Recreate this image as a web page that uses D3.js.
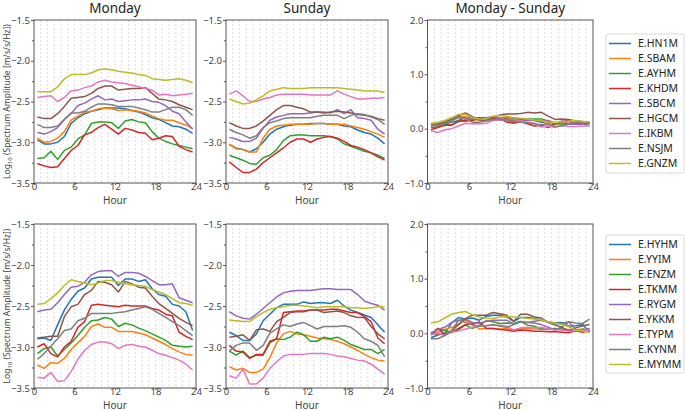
<!DOCTYPE html>
<html><head><meta charset="utf-8">
<script src="https://cdn.jsdelivr.net/npm/d3@7"></script>
<style>
html,body{margin:0;padding:0;background:#fff;}
svg{display:block;font-family:"Noto Sans",sans-serif;}
</style></head>
<body>
<svg id="chart" width="685" height="410"></svg>
<script>
const hours = [0.5,1.5,2.5,3.5,4.5,5.5,6.5,7.5,8.5,9.5,10.5,11.5,12.5,13.5,14.5,15.5,16.5,17.5,18.5,19.5,20.5,21.5,22.5,23.5];
const colors = ["#1f77b4","#ff7f0e","#2ca02c","#d62728","#9467bd","#8c564b","#e377c2","#7f7f7f","#bcbd22"];
const panelTitles = ["Monday","Sunday","Monday - Sunday"];
const xTicks = [0,6,12,18,24];
const ampTicks = [-1.5,-2.0,-2.5,-3.0,-3.5];
const diffTicks = [2.0,1.0,0.0,-1.0];

// ---- Top group ----
const stationsTop = ["E.HN1M","E.SBAM","E.AYHM","E.KHDM","E.SBCM","E.HGCM","E.IKBM","E.NSJM","E.GNZM"];
const topMonday = [
 [-2.97,-3.02,-3.02,-3.00,-2.93,-2.77,-2.70,-2.65,-2.62,-2.60,-2.58,-2.58,-2.58,-2.59,-2.61,-2.63,-2.66,-2.70,-2.72,-2.76,-2.80,-2.81,-2.84,-2.89],
 [-2.95,-3.00,-2.99,-2.95,-2.87,-2.73,-2.68,-2.63,-2.62,-2.59,-2.58,-2.59,-2.61,-2.60,-2.61,-2.62,-2.64,-2.68,-2.71,-2.73,-2.73,-2.76,-2.79,-2.83],
 [-3.20,-3.19,-3.11,-3.21,-3.10,-3.06,-2.96,-2.91,-2.77,-2.75,-2.75,-2.76,-2.83,-2.74,-2.72,-2.75,-2.76,-2.87,-2.95,-2.99,-3.02,-3.04,-3.06,-3.08],
 [-3.26,-3.29,-3.31,-3.30,-3.20,-3.10,-3.04,-2.91,-2.88,-2.82,-2.78,-2.84,-2.90,-2.83,-2.85,-2.88,-2.89,-2.97,-2.95,-2.92,-2.93,-3.05,-3.09,-3.12],
 [-2.88,-2.90,-2.87,-2.82,-2.72,-2.65,-2.55,-2.52,-2.47,-2.43,-2.48,-2.47,-2.50,-2.49,-2.48,-2.48,-2.47,-2.50,-2.51,-2.55,-2.62,-2.65,-2.75,-2.84],
 [-2.69,-2.71,-2.71,-2.65,-2.56,-2.46,-2.45,-2.44,-2.40,-2.34,-2.31,-2.31,-2.36,-2.35,-2.34,-2.34,-2.33,-2.40,-2.47,-2.48,-2.50,-2.54,-2.57,-2.60],
 [-2.45,-2.44,-2.43,-2.50,-2.45,-2.37,-2.36,-2.33,-2.31,-2.26,-2.24,-2.26,-2.27,-2.28,-2.30,-2.32,-2.34,-2.36,-2.42,-2.41,-2.43,-2.42,-2.41,-2.40],
 [-2.78,-2.82,-2.82,-2.80,-2.72,-2.64,-2.64,-2.62,-2.57,-2.53,-2.53,-2.54,-2.56,-2.56,-2.56,-2.58,-2.60,-2.63,-2.63,-2.60,-2.57,-2.57,-2.60,-2.67],
 [-2.38,-2.38,-2.38,-2.32,-2.22,-2.17,-2.17,-2.17,-2.15,-2.11,-2.10,-2.11,-2.13,-2.14,-2.15,-2.17,-2.18,-2.22,-2.23,-2.24,-2.23,-2.22,-2.24,-2.27]
];
const topSunday = [
 [-3.03,-3.07,-3.09,-3.12,-3.08,-3.00,-2.90,-2.84,-2.81,-2.79,-2.78,-2.78,-2.77,-2.77,-2.77,-2.78,-2.78,-2.80,-2.81,-2.85,-2.88,-2.90,-2.95,-3.02],
 [-3.02,-3.08,-3.09,-3.12,-3.12,-2.95,-2.84,-2.80,-2.79,-2.78,-2.78,-2.78,-2.78,-2.77,-2.77,-2.78,-2.78,-2.78,-2.80,-2.82,-2.84,-2.87,-2.90,-2.94],
 [-3.16,-3.19,-3.22,-3.26,-3.27,-3.19,-3.16,-3.09,-2.98,-2.92,-2.91,-2.91,-2.92,-2.92,-2.92,-2.93,-2.96,-3.02,-3.05,-3.08,-3.11,-3.13,-3.16,-3.20],
 [-3.24,-3.31,-3.37,-3.37,-3.33,-3.25,-3.19,-3.13,-3.07,-3.00,-2.96,-2.96,-3.00,-2.96,-2.94,-2.93,-2.95,-2.99,-3.04,-3.06,-3.09,-3.13,-3.18,-3.22],
 [-2.94,-2.96,-2.99,-2.99,-2.95,-2.83,-2.73,-2.69,-2.67,-2.65,-2.65,-2.65,-2.64,-2.63,-2.63,-2.64,-2.60,-2.65,-2.60,-2.70,-2.71,-2.73,-2.84,-2.90],
 [-2.76,-2.80,-2.83,-2.83,-2.80,-2.74,-2.67,-2.60,-2.55,-2.55,-2.57,-2.59,-2.63,-2.63,-2.64,-2.63,-2.62,-2.63,-2.64,-2.66,-2.67,-2.68,-2.71,-2.73],
 [-2.41,-2.37,-2.43,-2.50,-2.50,-2.47,-2.45,-2.42,-2.41,-2.41,-2.41,-2.41,-2.42,-2.42,-2.42,-2.42,-2.37,-2.41,-2.44,-2.47,-2.47,-2.46,-2.46,-2.45],
 [-2.84,-2.88,-2.91,-2.95,-2.92,-2.82,-2.76,-2.74,-2.71,-2.70,-2.70,-2.70,-2.70,-2.68,-2.67,-2.67,-2.67,-2.71,-2.67,-2.65,-2.66,-2.69,-2.72,-2.78],
 [-2.47,-2.50,-2.53,-2.52,-2.48,-2.43,-2.37,-2.35,-2.33,-2.34,-2.34,-2.34,-2.33,-2.33,-2.33,-2.33,-2.33,-2.34,-2.35,-2.36,-2.37,-2.37,-2.37,-2.39]
];
const topDiff = [
 [0.06,0.06,0.08,0.12,0.15,0.21,0.20,0.19,0.19,0.19,0.20,0.20,0.19,0.18,0.16,0.15,0.12,0.10,0.09,0.09,0.08,0.09,0.10,0.12],
 [0.07,0.08,0.10,0.17,0.24,0.22,0.16,0.17,0.17,0.19,0.20,0.19,0.17,0.17,0.16,0.16,0.14,0.10,0.09,0.09,0.10,0.10,0.11,0.11],
 [0.02,0.03,0.08,0.06,0.15,0.13,0.18,0.17,0.20,0.17,0.16,0.15,0.12,0.17,0.18,0.18,0.18,0.14,0.10,0.09,0.09,0.09,0.10,0.11],
 [-0.02,0.02,0.06,0.07,0.13,0.15,0.15,0.20,0.19,0.18,0.18,0.12,0.10,0.13,0.09,0.05,0.06,0.02,0.09,0.13,0.15,0.08,0.09,0.10],
 [0.06,0.06,0.12,0.17,0.23,0.18,0.18,0.17,0.20,0.22,0.17,0.18,0.14,0.14,0.15,0.16,0.13,0.15,0.09,0.14,0.09,0.08,0.09,0.06],
 [0.07,0.09,0.12,0.18,0.24,0.29,0.22,0.16,0.15,0.21,0.25,0.27,0.27,0.28,0.30,0.29,0.30,0.23,0.17,0.18,0.17,0.14,0.13,0.12],
 [-0.04,-0.07,-0.02,0.00,0.05,0.10,0.09,0.09,0.10,0.15,0.17,0.15,0.15,0.14,0.12,0.10,0.03,0.05,0.02,0.06,0.04,0.04,0.05,0.05],
 [0.06,0.06,0.09,0.15,0.20,0.18,0.12,0.12,0.14,0.17,0.17,0.16,0.14,0.12,0.11,0.09,0.07,0.08,0.04,0.05,0.09,0.12,0.12,0.11],
 [0.10,0.12,0.15,0.20,0.26,0.26,0.20,0.18,0.18,0.23,0.24,0.23,0.20,0.19,0.18,0.16,0.15,0.12,0.12,0.12,0.14,0.15,0.13,0.12]
];

// ---- Bottom group ----
const stationsBottom = ["E.HYHM","E.YYIM","E.ENZM","E.TKMM","E.RYGM","E.YKKM","E.TYPM","E.KYNM","E.MYMM"];
const bottomMonday = [
 [-2.90,-2.89,-2.92,-2.73,-2.55,-2.42,-2.32,-2.28,-2.17,-2.15,-2.15,-2.15,-2.25,-2.17,-2.17,-2.20,-2.18,-2.29,-2.36,-2.38,-2.48,-2.50,-2.57,-2.80],
 [-3.22,-3.26,-3.19,-3.20,-3.14,-3.03,-2.95,-2.87,-2.75,-2.72,-2.76,-2.76,-2.81,-2.81,-2.81,-2.83,-2.85,-2.89,-2.93,-2.97,-3.02,-3.06,-3.09,-3.10],
 [-3.08,-3.02,-3.00,-3.11,-3.03,-2.95,-2.86,-2.76,-2.68,-2.67,-2.64,-2.66,-2.75,-2.71,-2.73,-2.77,-2.80,-2.84,-2.88,-2.92,-2.98,-2.99,-3.00,-2.99],
 [-3.00,-2.96,-3.08,-3.12,-3.00,-2.93,-2.76,-2.69,-2.49,-2.48,-2.49,-2.50,-2.51,-2.49,-2.50,-2.50,-2.50,-2.53,-2.55,-2.60,-2.62,-2.82,-2.87,-2.91],
 [-2.57,-2.55,-2.54,-2.46,-2.36,-2.27,-2.26,-2.21,-2.12,-2.08,-2.07,-2.07,-2.14,-2.09,-2.09,-2.10,-2.14,-2.19,-2.24,-2.24,-2.23,-2.40,-2.43,-2.46],
 [-2.89,-2.88,-2.87,-2.87,-2.63,-2.51,-2.48,-2.36,-2.31,-2.20,-2.21,-2.24,-2.33,-2.20,-2.23,-2.27,-2.28,-2.38,-2.47,-2.53,-2.59,-2.65,-2.70,-2.74],
 [-3.37,-3.38,-3.31,-3.42,-3.41,-3.30,-3.15,-3.04,-2.97,-2.94,-2.94,-2.96,-3.02,-2.98,-2.97,-2.99,-3.00,-3.04,-3.08,-3.10,-3.13,-3.16,-3.21,-3.28],
 [-3.15,-3.08,-2.99,-2.90,-2.80,-2.78,-2.68,-2.65,-2.59,-2.59,-2.59,-2.59,-2.58,-2.57,-2.55,-2.53,-2.51,-2.54,-2.59,-2.64,-2.69,-2.74,-2.80,-2.86],
 [-2.48,-2.47,-2.41,-2.34,-2.25,-2.18,-2.20,-2.22,-2.24,-2.22,-2.19,-2.19,-2.21,-2.23,-2.24,-2.25,-2.26,-2.30,-2.33,-2.36,-2.41,-2.46,-2.47,-2.49]
];
const bottomSunday = [
 [-2.82,-2.86,-2.92,-2.92,-2.84,-2.68,-2.60,-2.52,-2.48,-2.48,-2.48,-2.45,-2.47,-2.46,-2.46,-2.47,-2.43,-2.50,-2.55,-2.58,-2.61,-2.64,-2.73,-2.82],
 [-3.24,-3.28,-3.26,-3.31,-3.31,-3.27,-3.13,-2.95,-2.84,-2.81,-2.84,-2.85,-2.87,-2.89,-2.90,-2.91,-2.93,-2.96,-3.00,-3.04,-3.09,-3.13,-3.16,-3.17],
 [-3.05,-3.10,-3.05,-3.13,-3.10,-3.10,-2.95,-2.90,-2.91,-2.88,-2.82,-2.85,-2.93,-2.93,-2.88,-2.90,-2.88,-2.92,-2.97,-3.00,-3.03,-3.03,-3.08,-3.03],
 [-2.98,-3.05,-3.06,-3.14,-3.09,-3.09,-2.93,-2.90,-2.58,-2.57,-2.56,-2.56,-2.55,-2.55,-2.55,-2.54,-2.54,-2.56,-2.58,-2.58,-2.63,-2.69,-2.89,-2.96],
 [-2.57,-2.62,-2.65,-2.66,-2.60,-2.53,-2.46,-2.39,-2.34,-2.32,-2.31,-2.31,-2.31,-2.30,-2.29,-2.29,-2.30,-2.30,-2.30,-2.36,-2.44,-2.47,-2.49,-2.55],
 [-2.88,-2.87,-2.85,-2.92,-2.79,-2.78,-2.81,-2.69,-2.64,-2.58,-2.57,-2.57,-2.55,-2.55,-2.58,-2.57,-2.56,-2.58,-2.62,-2.64,-2.64,-2.75,-2.84,-2.90],
 [-3.35,-3.38,-3.27,-3.45,-3.45,-3.38,-3.26,-3.18,-3.11,-3.09,-3.09,-3.09,-3.08,-3.08,-3.08,-3.09,-3.11,-3.12,-3.14,-3.16,-3.17,-3.21,-3.27,-3.33],
 [-3.05,-2.98,-2.95,-2.95,-3.04,-2.98,-2.83,-2.78,-2.73,-2.75,-2.72,-2.70,-2.74,-2.78,-2.75,-2.75,-2.75,-2.74,-2.76,-2.82,-2.90,-2.93,-2.98,-3.12],
 [-2.67,-2.68,-2.69,-2.69,-2.63,-2.58,-2.54,-2.52,-2.51,-2.49,-2.49,-2.50,-2.51,-2.52,-2.51,-2.51,-2.51,-2.51,-2.52,-2.52,-2.53,-2.52,-2.51,-2.51]
];
const bottomDiff = [
 [-0.08,-0.03,0.00,0.19,0.29,0.26,0.28,0.24,0.31,0.33,0.33,0.30,0.22,0.29,0.29,0.27,0.25,0.21,0.19,0.20,0.13,0.14,0.16,0.02],
 [0.02,0.02,0.07,0.11,0.17,0.24,0.18,0.08,0.09,0.09,0.08,0.09,0.06,0.08,0.09,0.08,0.08,0.07,0.07,0.07,0.07,0.07,0.07,0.07],
 [-0.03,0.08,0.05,0.02,0.07,0.15,0.09,0.14,0.23,0.21,0.18,0.19,0.18,0.22,0.15,0.13,0.08,0.08,0.09,0.08,0.05,0.04,0.08,0.04],
 [-0.02,0.09,-0.02,0.02,0.09,0.16,0.17,0.21,0.09,0.09,0.07,0.06,0.04,0.06,0.05,0.04,0.04,0.03,0.03,0.02,0.01,0.05,0.02,0.05],
 [0.00,0.07,0.11,0.20,0.24,0.26,0.20,0.18,0.22,0.24,0.24,0.24,0.17,0.21,0.20,0.19,0.16,0.11,0.06,0.12,0.21,0.07,0.06,0.09],
 [-0.01,-0.01,-0.02,0.05,0.16,0.27,0.33,0.33,0.33,0.38,0.36,0.33,0.22,0.35,0.35,0.30,0.28,0.20,0.15,0.11,0.05,0.10,0.14,0.16],
 [-0.02,0.00,-0.04,0.03,0.04,0.08,0.11,0.14,0.14,0.15,0.15,0.13,0.06,0.10,0.11,0.10,0.11,0.08,0.06,0.06,0.04,0.05,0.06,0.05],
 [-0.10,-0.10,-0.04,0.05,0.24,0.20,0.15,0.13,0.14,0.16,0.13,0.11,0.16,0.21,0.20,0.22,0.24,0.20,0.17,0.18,0.21,0.19,0.18,0.26],
 [0.19,0.21,0.28,0.35,0.38,0.40,0.34,0.30,0.27,0.27,0.30,0.31,0.30,0.29,0.27,0.26,0.25,0.21,0.19,0.16,0.12,0.06,0.04,0.02]
];

const svg = d3.select("#chart");
const textColor = "#444";
const frameColor = "#555";

const cols = [{x0:34, x1:196},{x0:226, x1:388},{x0:427.5, x1:593}];
const rows = [{y0:20, y1:183},{y0:224, y1:388}];

function drawPanel(col, row, yDomain, majorTicks, minorTicks, fmt, series, showTitle, title) {
  const x = d3.scaleLinear().domain([0,24]).range([col.x0, col.x1]);
  const y = d3.scaleLinear().domain(yDomain).range([row.y1, row.y0]);
  const g = svg.append("g");
  const gridHours = d3.range(1,24);
  g.selectAll("line.grid").data(gridHours).enter().append("line")
    .attr("x1", d=>x(d)).attr("x2", d=>x(d))
    .attr("y1", row.y0).attr("y2", row.y1)
    .attr("stroke", "#d6d6d6").attr("stroke-width", 0.8)
    .attr("stroke-dasharray", "2,2");
  const line = d3.line().x((d,i)=>x(hours[i])).y(d=>y(d));
  series.forEach((s,i)=>{
    g.append("path").datum(s).attr("d", line)
      .attr("fill","none").attr("stroke", colors[i]).attr("stroke-width", 1.5)
      .attr("stroke-linejoin","round");
  });
  g.append("rect").attr("x", col.x0).attr("y", row.y0)
    .attr("width", col.x1-col.x0).attr("height", row.y1-row.y0)
    .attr("fill","none").attr("stroke", frameColor).attr("stroke-width", 1);
  const xAxis = d3.axisBottom(x).tickValues(xTicks).tickSize(2).tickPadding(0).tickFormat(d3.format("d"));
  const xa = g.append("g").attr("transform", `translate(0,${row.y1})`).call(xAxis);
  xa.select(".domain").remove();
  xa.selectAll("line").attr("stroke", frameColor);
  xa.selectAll("text").attr("y", 7.2).attr("dy", null)
    .attr("fill", textColor).style("font-size","9.5px").style("font-family","'Noto Sans',sans-serif");
  const yAxis = d3.axisLeft(y).tickValues(majorTicks).tickSize(3).tickPadding(1).tickFormat(fmt);
  const ya = g.append("g").attr("transform", `translate(${col.x0},0)`).call(yAxis);
  ya.select(".domain").remove();
  ya.selectAll("line").attr("stroke", frameColor);
  ya.selectAll("text").attr("fill", textColor).style("font-size","9.5px").style("font-family","'Noto Sans',sans-serif");
  const ym = d3.axisLeft(y).tickValues(minorTicks).tickSize(2).tickFormat("");
  const yma = g.append("g").attr("transform", `translate(${col.x0},0)`).call(ym);
  yma.select(".domain").remove();
  yma.selectAll("line").attr("stroke", frameColor);
  g.append("text").attr("x", (col.x0+col.x1)/2).attr("y", row.y1+20.5)
    .attr("text-anchor","middle").attr("fill", textColor)
    .style("font-size","10px").text("Hour");
  if (showTitle) {
    g.append("text").attr("x", (col.x0+col.x1)/2).attr("y", 12.5)
      .attr("text-anchor","middle").attr("fill", "#222")
      .style("font-size","13.5px").text(title);
  }
}

function yLabel(row) {
  const cy = (row.y0+row.y1)/2;
  const t = svg.append("text").attr("transform", `translate(10,${cy}) rotate(-90)`)
    .attr("text-anchor","middle").attr("fill", textColor).style("font-size","8.5px");
  t.append("tspan").text("Log");
  t.append("tspan").attr("dy", 2).style("font-size","6px").text("10");
  t.append("tspan").attr("dy", -2).text(" (Spectrum Amplitude [m/s/s/Hz])");
}

function legend(names, y0, y1) {
  const lx0 = 606, lx1 = 684;
  svg.append("rect").attr("x", lx0).attr("y", y0).attr("width", lx1-lx0).attr("height", y1-y0)
    .attr("rx", 2).attr("fill","#fff").attr("stroke","#cfcfcf").attr("stroke-width",0.8);
  const ly = d3.scalePoint().domain(names).range([y0+9.5, y0+9.5+15*(names.length-1)]);
  names.forEach((n,i)=>{
    svg.append("line").attr("x1", 609).attr("x2", 631).attr("y1", ly(n)).attr("y2", ly(n))
      .attr("stroke", colors[i]).attr("stroke-width", 1.5);
    svg.append("text").attr("x", 638).attr("y", ly(n)).attr("dy","0.36em")
      .attr("fill","#222").style("font-size","10.5px").text(n);
  });
}

const fmt1 = d3.format(".1f");
const ampMinor = [-1.75,-2.25,-2.75,-3.25];
const diffMinor = [1.5,0.5,-0.5];

drawPanel(cols[0], rows[0], [-3.5,-1.5], ampTicks, ampMinor, fmt1, topMonday, true, panelTitles[0]);
drawPanel(cols[1], rows[0], [-3.5,-1.5], ampTicks, ampMinor, fmt1, topSunday, true, panelTitles[1]);
drawPanel(cols[2], rows[0], [-1,2], diffTicks, diffMinor, fmt1, topDiff, true, panelTitles[2]);
drawPanel(cols[0], rows[1], [-3.5,-1.5], ampTicks, ampMinor, fmt1, bottomMonday, false, "");
drawPanel(cols[1], rows[1], [-3.5,-1.5], ampTicks, ampMinor, fmt1, bottomSunday, false, "");
drawPanel(cols[2], rows[1], [-1,2], diffTicks, diffMinor, fmt1, bottomDiff, false, "");

yLabel(rows[0]);
yLabel(rows[1]);
legend(stationsTop, 34, 173);
legend(stationsBottom, 235, 373);
</script>
</body></html>
